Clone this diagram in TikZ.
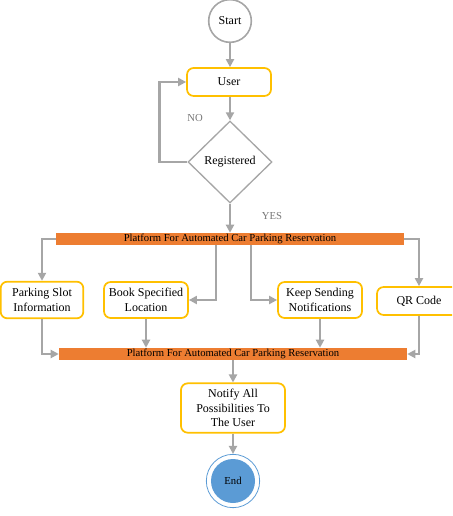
\documentclass[tikz,border=0pt]{standalone}
\usepackage{fontspec}
\setmainfont{Liberation Serif}
\usepackage{xcolor}
\usetikzlibrary{arrows.meta,shapes.geometric}

\definecolor{flowgray}{HTML}{A6A6A6}
\definecolor{labelgray}{HTML}{767676}
\definecolor{boxgold}{HTML}{FFC000}
\definecolor{barorange}{HTML}{ED7D31}
\definecolor{endblue}{HTML}{5B9BD5}

\begin{document}
\begin{tikzpicture}[x=0.75pt,y=-0.75pt,
  arr/.style={-{Triangle[length=6pt,width=6pt]},line width=1.8pt,flowgray},
  procbox/.style={draw=boxgold,line width=1.3pt,rounded corners=5pt,fill=white,
    align=center,font=\fontsize{9}{11}\selectfont,inner sep=2pt},
  platbar/.style={fill=barorange,minimum width=261pt,minimum height=9pt,
    inner sep=0pt,font=\fontsize{8}{9}\selectfont},
  decision/.style={diamond,draw=flowgray,line width=1pt,minimum width=63pt,
    minimum height=61.5pt,inner sep=0pt,font=\fontsize{9}{11}\selectfont},
  branch/.style={font=\fontsize{8}{9}\selectfont,text=labelgray}]
  \clip (0,0) rectangle (452,516);
  %% start, user and check
  \node[circle,draw=flowgray,line width=1.2pt,minimum size=32pt,inner sep=0pt,
    font=\fontsize{9}{11}\selectfont] (start) at (230,21) {Start};
  \node[procbox,minimum width=63pt,minimum height=21pt] (user) at (229,82) {User};
  \node[decision] (reg) at (230,162) {Registered};
  \node[branch] (no) at (195,118) {NO};
  \node[branch] (yes) at (272,216) {YES};
  %% first platform bar
  \node[platbar] (bar1) at (230,239) {Platform For Automated Car Parking Reservation};
  % service boxes
  \node[procbox,minimum width=62pt,minimum height=27.5pt] (park) at (42,300)
    {Parking Slot\\Information};
  \node[procbox,minimum width=63pt,minimum height=27pt] (book) at (146,300)
    {Book Specified\\Location};
  \node[procbox,minimum width=63pt,minimum height=27pt] (keep) at (320,300)
    {Keep Sending\\Notifications};
  \node[procbox,minimum width=63pt,minimum height=21pt] (qr) at (419,301) {QR Code};
  %% second platform bar
  \node[platbar] (bar2) at (233,354) {Platform For Automated Car Parking Reservation};
  \node[procbox,minimum width=78pt,minimum height=37pt] (notify) at (233,408)
    {Notify All\\Possibilities To\\The User};
  % end mark
  \node[circle,draw=endblue,line width=0.6pt,minimum size=40pt,inner sep=0pt] (endring) at (233,481) {};
  \node[circle,fill=endblue,minimum size=33pt,inner sep=0pt,
    font=\fontsize{8}{9}\selectfont] (end) at (endring) {End};
  %% connectors
  \draw[arr] (start) -- (start |- user.north);
  \draw[arr] (user.south -| reg.north) -- (reg.north);
  \draw[arr] (reg.west) -- ++(-28,0) |- (user.west);
  \draw[arr] (reg.south) -- (reg.south |- bar1.north);
  \draw[arr] (bar1.west) -| (park.north);
  \draw[arr] (216,0 |- bar1.south) |- (book.east);
  \draw[arr] (251,0 |- bar1.south) |- (keep.west);
  \draw[arr] (bar1.east) -| (qr.north);
  \draw[arr] (park.south) |- (bar2.west);
  \draw[arr] (book.south) -- (book.south |- bar2.north);
  \draw[arr] (keep.south) -- (keep.south |- bar2.north);
  \draw[arr] (qr.south) |- (bar2.east);
  \draw[arr] (bar2.south -| notify.north) -- (notify.north);
  \draw[arr] (notify.south) -- (endring.north);
\end{tikzpicture}
\end{document}
